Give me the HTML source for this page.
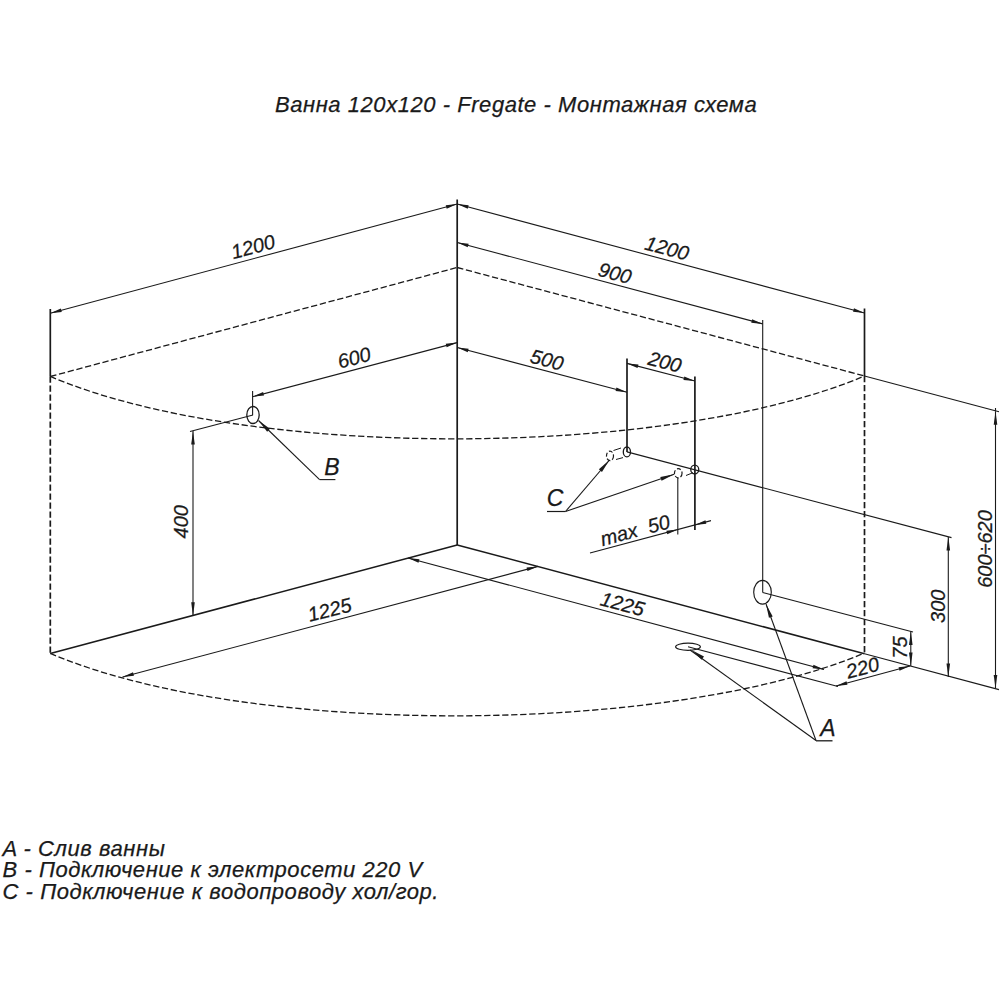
<!DOCTYPE html>
<html><head><meta charset="utf-8"><style>
html,body{margin:0;padding:0;background:#fff;}
body{width:1000px;height:1000px;position:relative;overflow:hidden;font-family:"Liberation Sans",sans-serif;}
svg{position:absolute;left:0;top:0;}
svg text{font-family:"Liberation Sans",sans-serif;font-style:italic;fill:#1a1a1a;stroke:#1a1a1a;stroke-width:0.25px;}
.title{position:absolute;left:275px;top:93.5px;font-style:italic;font-size:22px;letter-spacing:0.55px;color:#1a1a1a;white-space:pre;line-height:1;-webkit-text-stroke:0.25px #1a1a1a;}
.legend{position:absolute;left:2.5px;top:838px;font-style:italic;font-size:22px;letter-spacing:0.55px;color:#1a1a1a;white-space:pre;line-height:21.3px;-webkit-text-stroke:0.25px #1a1a1a;}
</style></head><body>
<svg width="1000" height="1000" viewBox="0 0 1000 1000">
<line x1="457.2" y1="199.5" x2="457.2" y2="545" stroke="#1a1a1a" stroke-width="1.7"/>
<line x1="50.3" y1="309" x2="50.3" y2="376.5" stroke="#1a1a1a" stroke-width="1.7"/>
<line x1="50.3" y1="376.5" x2="50.3" y2="653.5" stroke="#1a1a1a" stroke-width="1.7" stroke-dasharray="6.3 2.7"/>
<line x1="864.5" y1="308.5" x2="864.5" y2="376" stroke="#1a1a1a" stroke-width="1.7"/>
<line x1="864.5" y1="376" x2="864.5" y2="653.75" stroke="#1a1a1a" stroke-width="1.7" stroke-dasharray="6.3 2.7"/>
<line x1="50.3" y1="653.5" x2="457.2" y2="545" stroke="#1a1a1a" stroke-width="1.5"/>
<line x1="457.2" y1="545" x2="864.5" y2="653.75" stroke="#1a1a1a" stroke-width="1.5"/>
<line x1="864.5" y1="653.75" x2="999" y2="689.6" stroke="#1a1a1a" stroke-width="1.1"/>
<line x1="50.3" y1="376.5" x2="457.2" y2="267.5" stroke="#1a1a1a" stroke-width="1.3" stroke-dasharray="6.3 2.7"/>
<line x1="457.2" y1="267.5" x2="864.5" y2="376" stroke="#1a1a1a" stroke-width="1.3" stroke-dasharray="6.3 2.7"/>
<line x1="864.5" y1="376" x2="999" y2="411.8" stroke="#1a1a1a" stroke-width="1.1"/>
<path d="M50.3,376.4 C246.8,460.6 669.1,458.8 864.5,376" stroke="#1a1a1a" stroke-width="1.3" fill="none" stroke-dasharray="6.3 2.7"/>
<path d="M50.3,653.4 C246.8,737.6 669.1,735.8 864.5,653" stroke="#1a1a1a" stroke-width="1.3" fill="none" stroke-dasharray="6.3 2.7"/>
<line x1="50.3" y1="313.2" x2="457.2" y2="204" stroke="#1a1a1a" stroke-width="1.1"/>
<path d="M50.30,313.20 L60.81,308.51 L61.75,311.99 Z" fill="#1a1a1a"/>
<path d="M457.20,204.00 L446.69,208.69 L445.75,205.21 Z" fill="#1a1a1a"/>
<line x1="457.2" y1="204" x2="864.5" y2="313" stroke="#1a1a1a" stroke-width="1.1"/>
<path d="M457.20,204.00 L468.65,205.20 L467.72,208.68 Z" fill="#1a1a1a"/>
<path d="M864.50,313.00 L853.05,311.80 L853.98,308.32 Z" fill="#1a1a1a"/>
<line x1="457.2" y1="242.5" x2="762.7" y2="323.9" stroke="#1a1a1a" stroke-width="1.1"/>
<path d="M457.20,242.50 L468.65,243.69 L467.72,247.17 Z" fill="#1a1a1a"/>
<path d="M762.70,323.90 L751.25,322.71 L752.18,319.23 Z" fill="#1a1a1a"/>
<line x1="762.7" y1="320" x2="762.7" y2="592.5" stroke="#1a1a1a" stroke-width="1.1"/>
<line x1="252.6" y1="396.7" x2="457.2" y2="342.6" stroke="#1a1a1a" stroke-width="1.1"/>
<path d="M252.60,396.70 L263.13,392.05 L264.05,395.54 Z" fill="#1a1a1a"/>
<path d="M457.20,342.60 L446.67,347.25 L445.75,343.76 Z" fill="#1a1a1a"/>
<line x1="252.6" y1="391" x2="252.6" y2="415" stroke="#1a1a1a" stroke-width="1.1"/>
<line x1="457.2" y1="347.5" x2="627" y2="392.2" stroke="#1a1a1a" stroke-width="1.1"/>
<path d="M457.20,347.50 L468.65,348.65 L467.73,352.13 Z" fill="#1a1a1a"/>
<path d="M627.00,392.20 L615.55,391.05 L616.47,387.57 Z" fill="#1a1a1a"/>
<line x1="627" y1="358.6" x2="627" y2="451.9" stroke="#1a1a1a" stroke-width="1.7"/>
<line x1="627" y1="363.4" x2="694.9" y2="381" stroke="#1a1a1a" stroke-width="1.1"/>
<path d="M627.00,363.40 L638.45,364.51 L637.54,367.99 Z" fill="#1a1a1a"/>
<path d="M694.90,381.00 L683.45,379.89 L684.36,376.41 Z" fill="#1a1a1a"/>
<line x1="694.9" y1="376.6" x2="694.9" y2="530" stroke="#1a1a1a" stroke-width="1.7"/>
<line x1="590" y1="553" x2="711" y2="520.6" stroke="#1a1a1a" stroke-width="1.1"/>
<path d="M677.80,529.50 L667.29,534.19 L666.35,530.71 Z" fill="#1a1a1a"/>
<path d="M694.90,524.90 L705.41,520.20 L706.35,523.67 Z" fill="#1a1a1a"/>
<line x1="677.8" y1="478" x2="677.8" y2="534.5" stroke="#1a1a1a" stroke-width="1.1"/>
<line x1="253" y1="415" x2="190" y2="431.5" stroke="#1a1a1a" stroke-width="1.1"/>
<line x1="193" y1="431" x2="193" y2="615.7" stroke="#1a1a1a" stroke-width="1.1"/>
<path d="M193.00,431.00 L194.80,444.50 L191.20,444.50 Z" fill="#1a1a1a"/>
<path d="M193.00,615.70 L191.20,602.20 L194.80,602.20 Z" fill="#1a1a1a"/>
<line x1="122.5" y1="677" x2="538" y2="566.4" stroke="#1a1a1a" stroke-width="1.1"/>
<path d="M122.50,677.00 L133.02,672.34 L133.95,675.82 Z" fill="#1a1a1a"/>
<path d="M538.00,566.40 L527.48,571.06 L526.55,567.58 Z" fill="#1a1a1a"/>
<line x1="408" y1="558" x2="824" y2="669.5" stroke="#1a1a1a" stroke-width="1.1"/>
<path d="M408.00,558.00 L419.45,559.20 L418.52,562.68 Z" fill="#1a1a1a"/>
<path d="M824.00,669.50 L812.55,668.30 L813.48,664.82 Z" fill="#1a1a1a"/>
<line x1="688" y1="646.75" x2="838" y2="686.5" stroke="#1a1a1a" stroke-width="1.1"/>
<line x1="836" y1="686" x2="910" y2="666" stroke="#1a1a1a" stroke-width="1.1"/>
<path d="M836.00,686.00 L846.51,681.30 L847.45,684.77 Z" fill="#1a1a1a"/>
<path d="M910.00,666.00 L899.49,670.70 L898.55,667.23 Z" fill="#1a1a1a"/>
<line x1="762.7" y1="592.5" x2="913" y2="632" stroke="#1a1a1a" stroke-width="1.1"/>
<line x1="910.8" y1="631.5" x2="910.8" y2="666" stroke="#1a1a1a" stroke-width="1.1"/>
<path d="M910.80,631.50 L912.60,645.00 L909.00,645.00 Z" fill="#1a1a1a"/>
<path d="M910.80,666.00 L909.00,652.50 L912.60,652.50 Z" fill="#1a1a1a"/>
<line x1="627" y1="451.9" x2="951.5" y2="537.6" stroke="#1a1a1a" stroke-width="1.1"/>
<line x1="948.3" y1="537" x2="948.3" y2="677" stroke="#1a1a1a" stroke-width="1.1"/>
<path d="M948.30,537.00 L950.10,550.50 L946.50,550.50 Z" fill="#1a1a1a"/>
<path d="M948.30,677.00 L946.50,663.50 L950.10,663.50 Z" fill="#1a1a1a"/>
<line x1="995.5" y1="411.2" x2="995.5" y2="688.5" stroke="#1a1a1a" stroke-width="1.1"/>
<path d="M995.50,411.20 L997.30,424.70 L993.70,424.70 Z" fill="#1a1a1a"/>
<path d="M995.50,688.50 L993.70,675.00 L997.30,675.00 Z" fill="#1a1a1a"/>
<line x1="995.5" y1="408" x2="995.5" y2="411.2" stroke="#1a1a1a" stroke-width="1.1"/>
<ellipse cx="253" cy="415" rx="6.2" ry="8.5" stroke="#1a1a1a" stroke-width="1.3" fill="none"/>
<ellipse cx="762.5" cy="592.2" rx="8.8" ry="11.9" stroke="#1a1a1a" stroke-width="1.15" fill="none"/>
<ellipse cx="688" cy="646.75" rx="12.4" ry="3.6" stroke="#1a1a1a" stroke-width="1.15" fill="none"/>
<ellipse cx="626.9" cy="451.9" rx="3.6" ry="4.9" stroke="#1a1a1a" stroke-width="1.3" fill="none"/>
<ellipse cx="610" cy="455.9" rx="3.5" ry="4.8" stroke="#1a1a1a" stroke-width="1.2" fill="none" stroke-dasharray="4 2"/>
<line x1="613.5" y1="450.5" x2="621" y2="448" stroke="#1a1a1a" stroke-width="1.0"/>
<line x1="616" y1="459.5" x2="623" y2="457.6" stroke="#1a1a1a" stroke-width="1.0"/>
<ellipse cx="694.75" cy="469.5" rx="4.0" ry="4.4" stroke="#1a1a1a" stroke-width="1.3" fill="none"/>
<ellipse cx="678.25" cy="473.25" rx="3.8" ry="4.6" stroke="#1a1a1a" stroke-width="1.2" fill="none" stroke-dasharray="4 2"/>
<line x1="686" y1="475.5" x2="693" y2="472.7" stroke="#1a1a1a" stroke-width="1.0"/>
<line x1="258.5" y1="420.5" x2="319.6" y2="479.6" stroke="#1a1a1a" stroke-width="1.1"/>
<path d="M258.50,420.50 L269.95,428.80 L267.17,431.67 Z" fill="#1a1a1a"/>
<line x1="319.6" y1="479.6" x2="335.4" y2="479.6" stroke="#1a1a1a" stroke-width="1.1"/>
<line x1="565.5" y1="511.5" x2="609.5" y2="460" stroke="#1a1a1a" stroke-width="1.1"/>
<path d="M609.50,460.00 L601.93,471.94 L598.89,469.35 Z" fill="#1a1a1a"/>
<line x1="565.5" y1="511.5" x2="674.2" y2="474.3" stroke="#1a1a1a" stroke-width="1.1"/>
<path d="M674.20,474.30 L661.60,480.73 L660.31,476.94 Z" fill="#1a1a1a"/>
<line x1="547" y1="511.5" x2="565.5" y2="511.5" stroke="#1a1a1a" stroke-width="1.2"/>
<line x1="816" y1="740.5" x2="690" y2="650" stroke="#1a1a1a" stroke-width="1.1"/>
<path d="M691.50,650.00 L704.00,656.61 L701.65,659.85 Z" fill="#1a1a1a"/>
<line x1="816" y1="740.5" x2="766" y2="604" stroke="#1a1a1a" stroke-width="1.1"/>
<path d="M766.00,604.00 L772.69,616.46 L768.94,617.83 Z" fill="#1a1a1a"/>
<line x1="816" y1="740.8" x2="832.5" y2="740.8" stroke="#1a1a1a" stroke-width="1.3"/>
<text transform="translate(253,246.5) rotate(-14.8)" x="0" y="7.20" font-size="20" text-anchor="middle">1200</text>
<text transform="translate(667,248) rotate(15)" x="0" y="7.20" font-size="20" text-anchor="middle">1200</text>
<text transform="translate(615,272.9) rotate(15)" x="0" y="7.20" font-size="20" text-anchor="middle">900</text>
<text transform="translate(354,357.5) rotate(-14.8)" x="0" y="7.20" font-size="20" text-anchor="middle">600</text>
<text transform="translate(547,359.5) rotate(15)" x="0" y="7.20" font-size="20" text-anchor="middle">500</text>
<text transform="translate(665,361.6) rotate(14.5)" x="0" y="7.20" font-size="20" text-anchor="middle">200</text>
<text transform="translate(635,530) rotate(-15)" x="0" y="7.20" font-size="20" text-anchor="middle">max&#160;&#160;50</text>
<text transform="translate(181,521.8) rotate(-90)" x="0" y="7.20" font-size="20" text-anchor="middle">400</text>
<text transform="translate(329.5,609.5) rotate(-14)" x="0" y="7.20" font-size="20" text-anchor="middle">1225</text>
<text transform="translate(622.5,603.75) rotate(15)" x="0" y="7.20" font-size="20" text-anchor="middle">1225</text>
<text transform="translate(862.5,667.5) rotate(-15)" x="0" y="7.20" font-size="20" text-anchor="middle">220</text>
<text transform="translate(899.5,647.5) rotate(-90)" x="0" y="7.20" font-size="20" text-anchor="middle">75</text>
<text transform="translate(937.5,606.2) rotate(-90)" x="0" y="7.20" font-size="20" text-anchor="middle">300</text>
<text transform="translate(985,549) rotate(-90)" x="0" y="7.20" font-size="20" text-anchor="middle">600÷620</text>
<text transform="translate(828,727.6) rotate(0)" x="0" y="8.28" font-size="23" text-anchor="middle">A</text>
<text transform="translate(332,466.4) rotate(0)" x="0" y="8.28" font-size="23" text-anchor="middle">B</text>
<text transform="translate(555,497.5) rotate(0)" x="0" y="8.28" font-size="23" text-anchor="middle">C</text>
</svg>
<div class="title">Ванна 120x120 - Fregate - Монтажная схема</div>
<div class="legend">A - Слив ванны
B - Подключение к электросети 220 V
C - Подключение к водопроводу хол/гор.</div>
</body></html>
